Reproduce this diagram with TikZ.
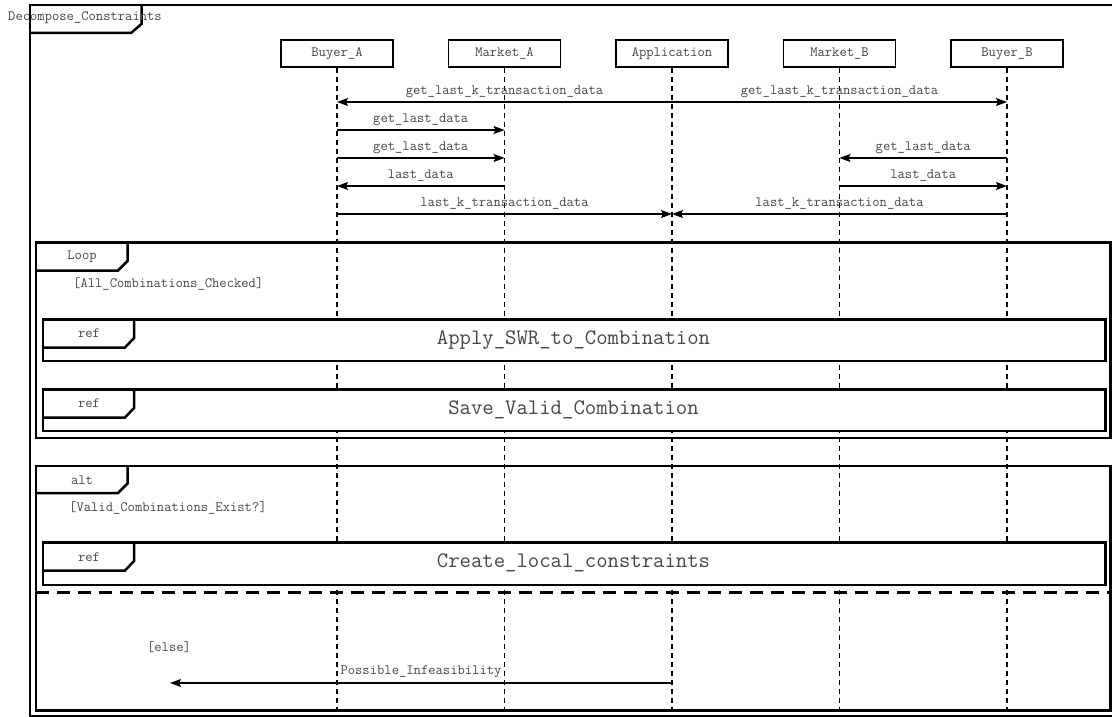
\documentclass[tikz,border=0pt]{standalone}
\usepackage{fontspec}
\usetikzlibrary{arrows.meta}
\definecolor{txt}{RGB}{70,70,70}
\tikzset{
  lbl/.style={font=\fontsize{14.2}{16}\selectfont\ttfamily, text=txt, inner sep=0pt},
  big/.style={font=\fontsize{22.1}{25}\selectfont\ttfamily, text=txt, inner sep=0pt},
  head/.style={draw, line width=1.2pt, fill=white, minimum width=112pt, minimum height=27pt, lbl},
  life/.style={line width=1.3pt, dash pattern=on 5pt off 4pt},
  msg/.style={line width=1.2pt, -{Stealth[length=11pt, width=8pt, inset=2pt]}},
  frm/.style={line width=2.5pt},
  reffrm/.style={line width=2.5pt, fill=white},
  sep/.style={line width=2.5pt, dash pattern=on 13pt off 8pt},
}
\begin{document}
\begin{tikzpicture}[x=1pt, y=-1pt]
\useasboundingbox (0,0) rectangle (1112,717);
\clip (0,0) rectangle (1112,717);

% lifeline heads
\node[head] (bA) at (337,53.5) {Buyer\_A};
\node[head] (mA) at (504.5,53.5) {Market\_A};
\node[head] (app) at (672,53.5) {Application};
\node[head] (mB) at (839.5,53.5) {Market\_B};
\node[head] (bB) at (1007,53.5) {Buyer\_B};

% lifelines
\foreach \n in {bA,mA,app,mB,bB}
  \draw[life] (\n.south) -- (\n.south |- {0,720});

% outer frame
\draw[frm] (30,5) rectangle (1125,716.5);
\draw[frm] (30,33) -- (131,33) -- (141.5,24) -- (141.5,5);
\node[lbl] (outerlbl) at (85,18) {Decompose\_Constraints};

% messages
\draw[msg] (app |- {0,102}) -- (bA |- {0,102}) node[lbl, midway, yshift=10pt] (l1) {get\_last\_k\_transaction\_data};
\draw[msg] (app |- {0,102}) -- (bB |- {0,102}) node[lbl, midway, yshift=10pt] (l2) {get\_last\_k\_transaction\_data};
\draw[msg] (bA |- {0,130}) -- (mA |- {0,130}) node[lbl, midway, yshift=10pt] (l3) {get\_last\_data};
\draw[msg] (bA |- {0,158}) -- (mA |- {0,158}) node[lbl, midway, yshift=10pt] (l4) {get\_last\_data};
\draw[msg] (bB |- {0,158}) -- (mB |- {0,158}) node[lbl, midway, yshift=10pt] (l5) {get\_last\_data};
\draw[msg] (mA |- {0,186}) -- (bA |- {0,186}) node[lbl, midway, yshift=10pt] (l6) {last\_data};
\draw[msg] (mB |- {0,186}) -- (bB |- {0,186}) node[lbl, midway, yshift=10pt] (l7) {last\_data};
\draw[msg] (bA |- {0,214}) -- (app |- {0,214}) node[lbl, midway, yshift=10pt] (l8) {last\_k\_transaction\_data};
\draw[msg] (bB |- {0,214}) -- (app |- {0,214}) node[lbl, midway, yshift=10pt] (l9) {last\_k\_transaction\_data};

% loop fragment
\draw[frm] (36,242.5) rectangle (1110.5,438);
\draw[frm] (36,270.5) -- (118,270.5) -- (127.5,261) -- (127.5,242.5);
\node[lbl] (looplbl) at (82,256.5) {Loop};
\node[lbl, anchor=west] (loopguard) at (73,283.5) {[All\_Combinations\_Checked]};

\draw[reffrm] (43,319.5) rectangle (1105.5,361);
\draw[frm] (43,347.5) -- (125,347.5) -- (134,338) -- (134,319.5);
\node[lbl] (ref1lbl) at (89,333.5) {ref};
\node[big] (ref1) at (573.5,340) {Apply\_SWR\_to\_Combination};

\draw[reffrm] (43,389.5) rectangle (1105.5,431);
\draw[frm] (43,417.5) -- (125,417.5) -- (134,408) -- (134,389.5);
\node[lbl] (ref2lbl) at (89,403.5) {ref};
\node[big] (ref2) at (573.5,410) {Save\_Valid\_Combination};

% alt fragment
\draw[frm] (36,466) rectangle (1110.5,710.5);
\draw[frm] (36,493) -- (118,493) -- (127.5,483.5) -- (127.5,466);
\node[lbl] (altlbl) at (82,480) {alt};
\node[lbl, anchor=west] (altguard) at (69,507.5) {[Valid\_Combinations\_Exist?]};

\draw[reffrm] (43,542.5) rectangle (1105.5,585);
\draw[frm] (43,570.5) -- (125,570.5) -- (134,561) -- (134,542.5);
\node[lbl] (ref3lbl) at (89,557) {ref};
\node[big] (ref3) at (573.5,563) {Create\_local\_constraints};

\draw[sep] (36,592.5) -- (1112,592.5);
\node[lbl] (elseguard) at (169,647.5) {[else]};

\coordinate (infend) at (170,683);
\draw[msg] (app |- infend) -- (infend) node[lbl, midway, yshift=11pt] (l10) {Possible\_Infeasibility};
\end{tikzpicture}
\end{document}
